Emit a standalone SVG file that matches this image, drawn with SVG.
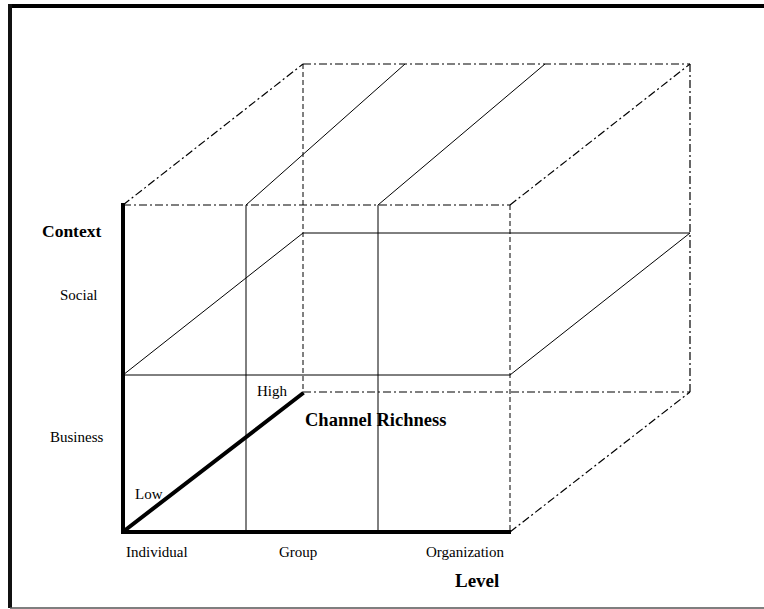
<svg xmlns="http://www.w3.org/2000/svg" width="764" height="609" viewBox="0 0 764 609">
<style>
.s{stroke:#000;stroke-width:1;fill:none}
.dd{stroke:#000;stroke-width:1.2;fill:none;stroke-dasharray:8 3 2 3}
.da{stroke:#000;stroke-width:1;fill:none;stroke-dasharray:5 3}
.k{stroke:#000;stroke-width:4;fill:none;stroke-linecap:square}
text{font-family:"Liberation Serif","Times New Roman",serif;fill:#000}
.l{font-size:15px}
.b{font-weight:bold}
</style>
<rect x="0" y="0" width="764" height="609" fill="#fff"/>
<g id="frame">
<line x1="10" y1="6" x2="764" y2="6" stroke="#000" stroke-width="4"/>
<line x1="10" y1="4" x2="10" y2="608" stroke="#111" stroke-width="4"/>
<line x1="10" y1="608" x2="764" y2="608" stroke="#555" stroke-width="1.5"/>
</g>
<g id="connectors">
<!-- back face -->
<line class="dd" x1="303" y1="64" x2="690" y2="64"/>
<line class="dd" x1="690" y1="64" x2="690" y2="392"/>
<line class="da" x1="303" y1="64" x2="303" y2="392"/>
<line class="dd" x1="303" y1="392" x2="690" y2="392"/>
<line class="s" x1="303" y1="233" x2="690" y2="233"/>
<!-- depth edges -->
<line class="dd" x1="123" y1="205" x2="303" y2="64"/>
<line class="dd" x1="510" y1="205" x2="690" y2="64"/>
<line class="dd" x1="510" y1="532" x2="690" y2="392"/>
<line class="s" x1="123" y1="375" x2="303" y2="233"/>
<line class="s" x1="510" y1="375" x2="690" y2="233"/>
<line class="s" x1="246" y1="205" x2="405" y2="64"/>
<line class="s" x1="378" y1="205" x2="545" y2="64"/>
<!-- front face -->
<line class="dd" x1="123" y1="205" x2="510" y2="205"/>
<line class="da" x1="510" y1="205" x2="510" y2="532"/>
<line class="s" x1="123" y1="375" x2="510" y2="375"/>
<line class="s" x1="246" y1="205" x2="246" y2="532"/>
<line class="s" x1="378" y1="205" x2="378" y2="532"/>
<!-- axes -->
<line class="k" x1="123" y1="205" x2="123" y2="532"/>
<line class="k" x1="123" y1="532" x2="509" y2="532"/>
<line class="k" x1="124" y1="531" x2="302" y2="394"/>
</g>
<g id="context-axis">
<text class="b" x="42" y="237" font-size="17.5">Context</text>
<text class="l" x="60" y="300">Social</text>
<text class="l" x="50" y="442">Business</text>
</g>
<g id="channel-axis">
<text class="l" x="135" y="499">Low</text>
<text class="l" x="257" y="396">High</text>
<text class="b" x="305" y="426" font-size="18.5">Channel Richness</text>
</g>
<g id="level-axis">
<text class="l" x="126" y="557">Individual</text>
<text class="l" x="279" y="557">Group</text>
<text class="l" x="426" y="557">Organization</text>
<text class="b" x="455" y="587" font-size="19">Level</text>
</g>
</svg>
